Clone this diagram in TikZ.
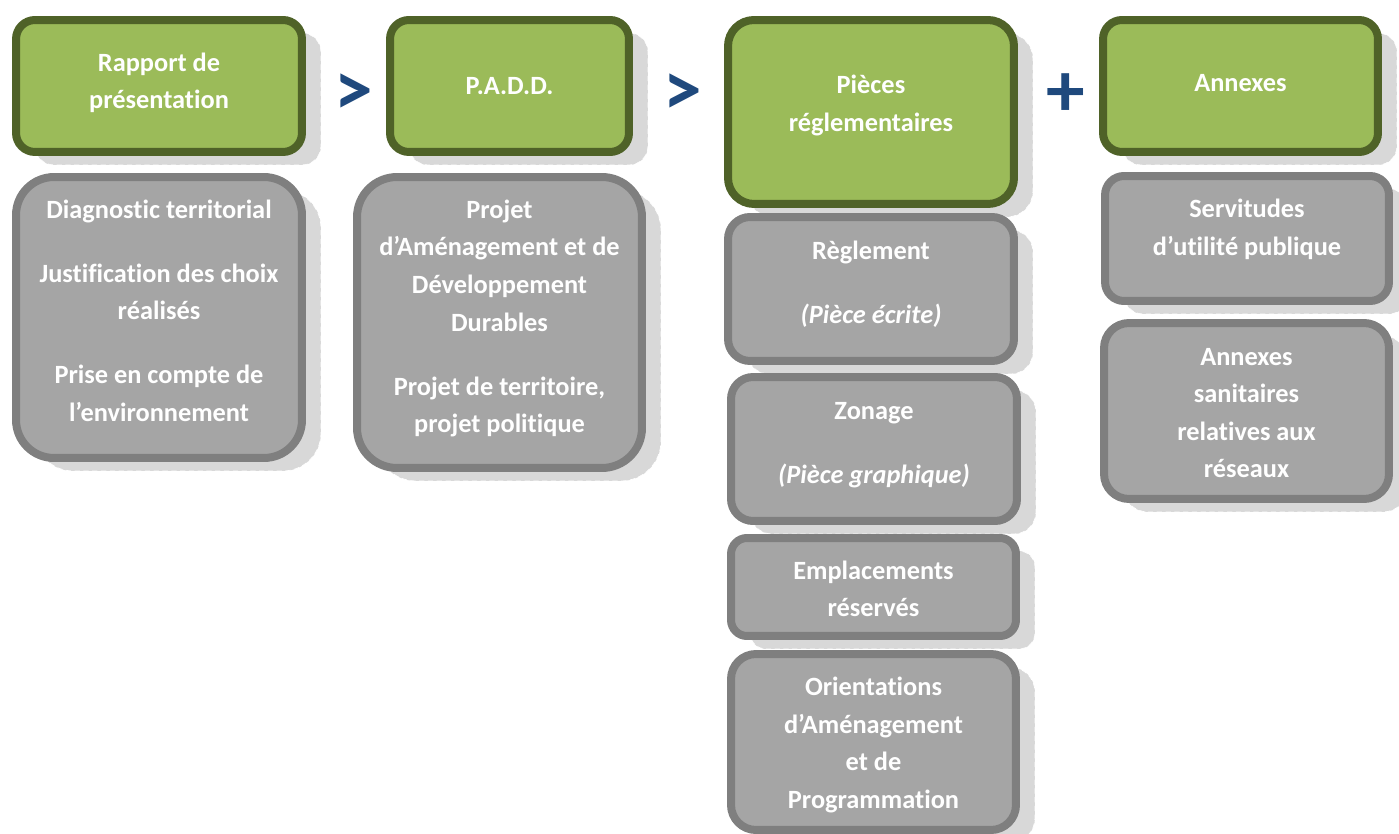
\documentclass[tikz,border=0pt]{standalone}
\usepackage{fontspec}
\setmainfont{Carlito}[Ligatures=CommonOff]
\usetikzlibrary{shadows}
\definecolor{boxgreen}{HTML}{9BBB59}
\definecolor{boxgreendark}{HTML}{4F6228}
\definecolor{boxgray}{HTML}{A5A5A5}
\definecolor{boxgraydark}{HTML}{7F7F7F}
\definecolor{shadowgray}{HTML}{D8D8D8}
\definecolor{signblue}{HTML}{1F497D}

\begin{document}
\begin{tikzpicture}[x=0.02cm, y=-0.02cm,
  pnode/.style={rectangle, line width=0.16cm, inner sep=0pt,
    drop shadow={shadow xshift=0.38cm, shadow yshift=-0.26cm, fill=shadowgray, opacity=1,
      draw=white, densely dashed, line width=0.4pt}},
  ptext/.style={text=white, inner sep=0pt, align=center,
    font=\fontsize{15pt}{21.4pt}\selectfont\bfseries},
  gnode/.style={pnode, draw=boxgreendark, fill=boxgreen},
  snode/.style={pnode, draw=boxgraydark, fill=boxgray},
  sign/.style={text=signblue, font=\fontsize{44pt}{44pt}\selectfont\bfseries, inner sep=0pt}]
  \useasboundingbox (0,0) rectangle (1399,834);

  % top row
  \node[gnode, minimum width=5.72cm, minimum height=2.64cm, rounded corners=0.38cm,
    label={[ptext, yshift=0.06cm]center:{Rapport de\\présentation}}] (rapport) at (159,86) {};
  \node[gnode, minimum width=4.78cm, minimum height=2.64cm, rounded corners=0.38cm,
    label={[ptext]center:{P.A.D.D.}}] (padd) at (509.5,86) {};
  \node[gnode, minimum width=5.72cm, minimum height=3.68cm, rounded corners=0.52cm,
    label={[ptext, yshift=0.13cm]center:{Pièces\\réglementaires}}] (pieces) at (871,112) {};
  \node[gnode, minimum width=5.50cm, minimum height=2.64cm, rounded corners=0.38cm,
    label={[ptext, yshift=0.06cm]center:{Annexes}}] (annexes) at (1240.5,86) {};

  \node[sign] (gt1) at (354,95) {>};
  \node[sign] (gt2) at (683,95) {>};
  \node[sign] (plus) at (1066,95) {+};

  % contents
  \node[snode, minimum width=5.72cm, minimum height=5.62cm, rounded corners=0.76cm,
    label={[ptext, yshift=0.14cm]center:{Diagnostic territorial\\[15pt]Justification des choix\\réalisés\\[15pt]Prise en compte de\\l’environnement}}]
    (diag) at (159,317.5) {};
  \node[snode, minimum width=5.70cm, minimum height=5.82cm, rounded corners=0.80cm,
    label={[ptext, yshift=0.08cm]center:{Projet\\d’Aménagement et de\\Développement\\Durables\\[15pt]Projet de territoire,\\projet politique}}]
    (projet) at (499.5,322.5) {};
  \node[snode, minimum width=5.72cm, minimum height=2.88cm, rounded corners=0.44cm,
    label={[ptext, yshift=0.1cm]center:{Règlement\\[15pt]\textit{(Pièce écrite)}}}]
    (reglement) at (871,289) {};
  \node[snode, minimum width=5.72cm, minimum height=2.88cm, rounded corners=0.44cm,
    label={[ptext, yshift=0.08cm]center:{Zonage\\[15pt]\textit{(Pièce graphique)}}}]
    (zonage) at (874,449) {};
  \node[snode, minimum width=5.70cm, minimum height=1.96cm, rounded corners=0.32cm,
    label={[ptext, yshift=-0.04cm]center:{Emplacements\\réservés}}]
    (emplac) at (873.5,587) {};
  \node[snode, minimum width=5.70cm, minimum height=3.52cm, rounded corners=0.50cm,
    label={[ptext, yshift=-0.06cm]center:{Orientations\\d’Aménagement\\et de\\Programmation}}]
    (orient) at (873.5,742) {};
  \node[snode, minimum width=5.68cm, minimum height=2.50cm, rounded corners=0.38cm,
    label={[ptext, yshift=0.18cm]center:{Servitudes\\d’utilité publique}}]
    (servit) at (1247,238.5) {};
  \node[snode, minimum width=5.70cm, minimum height=3.52cm, rounded corners=0.50cm,
    label={[ptext, yshift=-0.04cm]center:{Annexes\\sanitaires\\relatives aux\\réseaux}}]
    (sanit) at (1246.5,411) {};
\end{tikzpicture}
\end{document}
